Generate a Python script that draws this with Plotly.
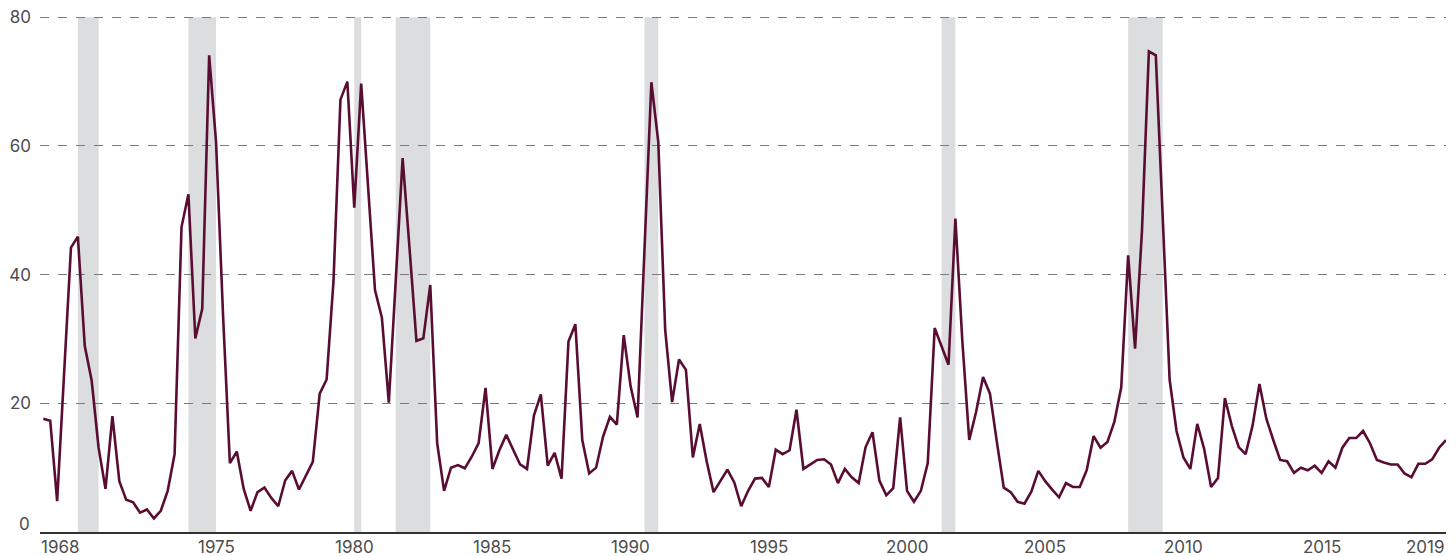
import plotly.graph_objects as go

# Quarterly series, first observation 1968 Q4 (x = 1968.75), step one quarter
first_quarter = 1968.75
values = [
    17.6,
    17.3, 4.8, 24.5, 44.2,        # 1969
    45.9, 28.9, 23.5, 13.1,       # 1970
    6.7, 18.0, 7.9, 5.0,          # 1971
    4.6, 3.0, 3.5, 2.1,           # 1972
    3.3, 6.4, 12.1, 47.4,         # 1973
    52.5, 30.1, 34.7, 74.1,       # 1974
    60.6, 34.0, 10.7, 12.5,       # 1975
    6.7, 3.3, 6.2, 6.9,           # 1976
    5.3, 4.0, 8.0, 9.5,           # 1977
    6.6, 8.7, 10.9, 21.5,         # 1978
    23.7, 39.1, 67.2, 70.0,       # 1979
    50.4, 69.7, 53.6, 37.6,       # 1980
    33.3, 20.1, 39.0, 58.1,       # 1981
    44.1, 29.7, 30.1, 38.4,       # 1982
    13.8, 6.4, 10.0, 10.4,        # 1983
    9.9, 11.7, 13.8, 22.4,        # 1984
    9.8, 12.7, 15.1, 12.9,        # 1985
    10.5, 9.8, 18.1, 21.4,        # 1986
    10.3, 12.3, 8.3, 29.6,        # 1987
    32.3, 14.3, 9.1, 10.0,        # 1988
    14.8, 17.9, 16.7, 30.6,       # 1989
    22.6, 17.8, 44.0, 69.9,       # 1990
    60.6, 31.4, 20.2, 26.8,       # 1991
    25.2, 11.6, 16.8, 11.0,       # 1992
    6.2, 7.9, 9.7, 7.7,           # 1993
    4.0, 6.4, 8.3, 8.4,           # 1994
    7.0, 12.8, 12.1, 12.7,        # 1995
    19.0, 9.8, 10.5, 11.2,        # 1996
    11.3, 10.5, 7.6, 9.8,         # 1997
    8.5, 7.6, 13.2, 15.5,         # 1998
    8.0, 5.7, 6.8, 17.8,          # 1999
    6.4, 4.7, 6.4, 10.7,          # 2000
    31.7, 28.9, 26.0, 48.7,       # 2001
    29.7, 14.3, 18.7, 24.1,       # 2002
    21.5, 14.0, 6.9, 6.2,         # 2003
    4.7, 4.4, 6.3, 9.5,           # 2004
    7.9, 6.6, 5.4, 7.6,           # 2005
    7.0, 7.0, 9.6, 14.9,          # 2006
    13.1, 14.0, 17.1, 22.5,       # 2007
    43.0, 28.5, 46.8, 74.7,       # 2008
    74.1, 49.0, 23.7, 15.7,       # 2009
    11.6, 9.8, 16.8, 12.9,        # 2010
    7.0, 8.4, 20.8, 16.5,         # 2011
    13.2, 12.1, 16.5, 23.0,       # 2012
    17.6, 14.3, 11.2, 11.0,       # 2013
    9.2, 10.0, 9.6, 10.3,         # 2014
    9.2, 11.0, 10.0, 13.1,        # 2015
    14.6, 14.6, 15.7, 13.8,       # 2016
    11.2, 10.8, 10.5, 10.5,       # 2017
    9.1, 8.5, 10.6, 10.6,         # 2018
    11.3, 13.1, 14.3,             # 2019
]
quarters = [first_quarter + 0.25 * i for i in range(len(values))]

# Recession periods (shaded)
rec_start = [1970.0, 1974.0, 1980.0, 1981.5, 1990.5, 2001.25, 2008.0]
rec_end = [1970.75, 1975.0, 1980.25, 1982.75, 1991.0, 2001.75, 2009.25]

# Axis ticks
x_tickvals = [1975, 1980, 1985, 1990, 1995, 2000, 2005, 2010, 2015]
x_ticktext = [str(v) for v in x_tickvals]
edge_labels = ["1968", "2019"]
y_tickvals = [20, 40, 60, 80]

x_range = [1968.63, 2019.5]
y_range = [0, 80.2]
y_top = 80

LINE = "#5a0d33"
TXT = "#4d4d4d"
FONT = "Inter"
LABEL_FONT = dict(family=FONT, size=17, color=TXT)
LABEL_SHIFT = -4

fig = go.Figure()

for s, e in zip(rec_start, rec_end):
    fig.add_shape(type="rect", xref="x", yref="y", x0=s, x1=e, y0=0, y1=y_top,
                  fillcolor="#dcdddf", line_width=0, layer="below")

fig.add_trace(go.Scatter(x=quarters, y=values, mode="lines",
                         line=dict(color=LINE, width=2.6), hoverinfo="x+y",
                         showlegend=False, cliponaxis=False))

annotations = []
for v, t in zip(x_tickvals, x_ticktext):
    annotations.append(dict(text=t, xref="x", x=v, xanchor="center",
                            yref="paper", y=0, yanchor="top", yshift=LABEL_SHIFT,
                            borderpad=0, showarrow=False, font=LABEL_FONT))
annotations.append(dict(text=edge_labels[0], xref="x", x=x_range[0], xanchor="left",
                        yref="paper", y=0, yanchor="top", yshift=LABEL_SHIFT,
                        borderpad=0, showarrow=False, font=LABEL_FONT))
annotations.append(dict(text=edge_labels[1], xref="x", x=x_range[1], xanchor="right",
                        yref="paper", y=0, yanchor="top", yshift=LABEL_SHIFT,
                        borderpad=0, showarrow=False, font=LABEL_FONT))
annotations.append(dict(text="0", xref="paper", x=0, xanchor="right", xshift=-8,
                        yref="y", y=0, yanchor="middle", yshift=8, showarrow=False,
                        font=LABEL_FONT))

fig.update_layout(
    width=1456, height=556,
    margin=dict(l=40, r=10, t=16, b=24),
    paper_bgcolor="white", plot_bgcolor="white",
    font=LABEL_FONT,
    xaxis=dict(range=x_range, tickvals=x_tickvals, showticklabels=False,
               showgrid=False, zeroline=False, showline=True, linecolor="#333333",
               linewidth=1.5, ticks="", automargin=False),
    yaxis=dict(range=y_range, tickvals=y_tickvals, showgrid=True,
               gridcolor="#7a7a7a", griddash="dash", gridwidth=1,
               zeroline=False, showline=False, ticks="", ticklabelstandoff=8,
               automargin=False, tickfont=LABEL_FONT),
    annotations=annotations,
)

fig.write_html("out.html", config={"displayModeBar": False},
               post_script="document.body.style.margin='0px';")
